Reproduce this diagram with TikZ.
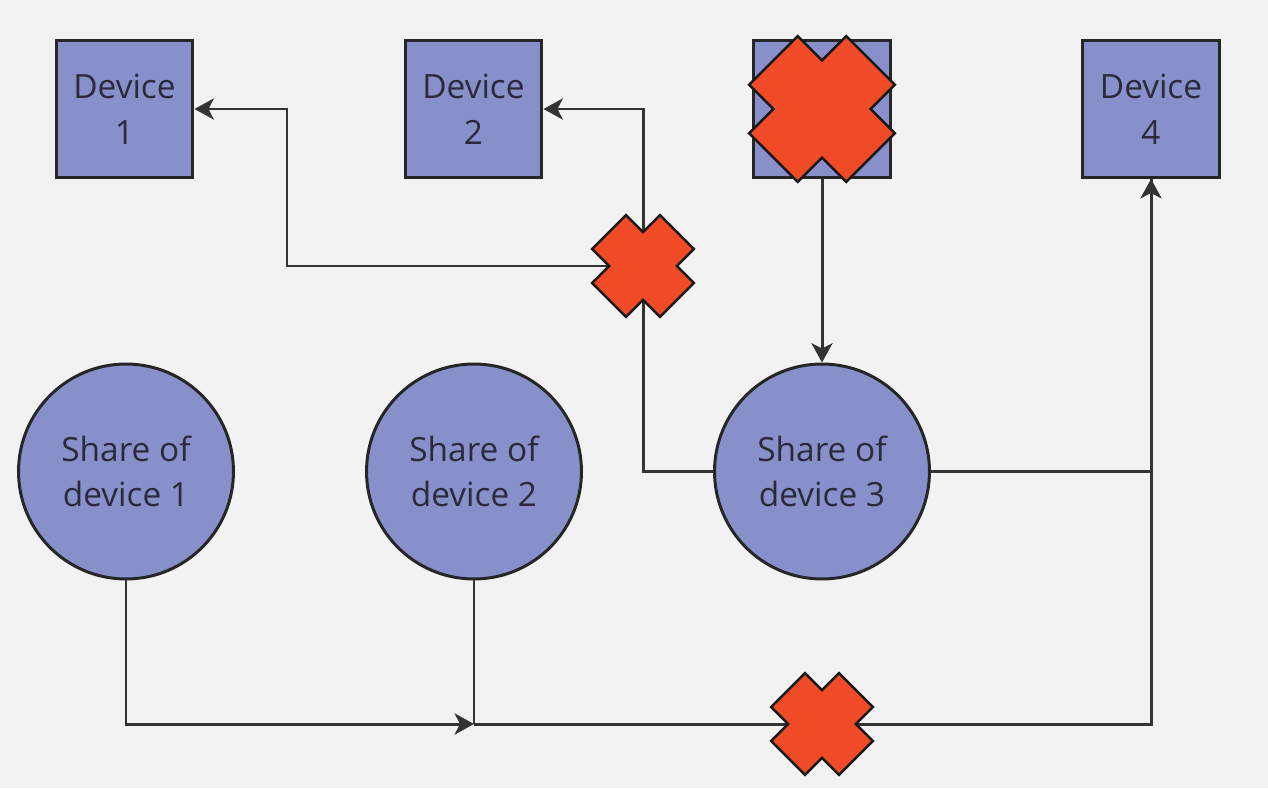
\documentclass[tikz,border=0pt]{standalone}
\usepackage{fontspec}
\setmainfont{Open Sans}
\usetikzlibrary{arrows.meta}
\definecolor{bgcol}{HTML}{F2F2F2}
\definecolor{boxcol}{HTML}{8890CC}
\definecolor{xcol}{HTML}{F04A26}
\definecolor{linecol}{HTML}{333333}
\definecolor{txtcol}{HTML}{2A2A38}
\tikzset{
  devbox/.style={rectangle, draw=black!85, line width=1.7pt, fill=boxcol, minimum size=2.74cm, align=center, text=txtcol, font=\fontsize{19}{26}\selectfont},
  share/.style={circle, draw=black!85, line width=1.7pt, fill=boxcol, minimum size=4.3cm, align=center, text=txtcol, font=\fontsize{19}{26}\selectfont},
  conn/.style={draw=linecol, line width=1.7pt},
  arr/.style={conn, -{Stealth[length=11pt, width=12pt, inset=3pt]}},
  xshape/.style={fill=xcol, draw=black!90, line width=1.4pt, line join=miter}
}
\newcommand{\redcross}[2]{%
  \filldraw[xshape, shift={(#1)}, rotate=45, scale=#2]
    (48,24) -- (24,24) -- (24,48) -- (-24,48) -- (-24,24) -- (-48,24) --
    (-48,-24) -- (-24,-24) -- (-24,-48) -- (24,-48) -- (24,-24) -- (48,-24) -- cycle;}
\begin{document}
\begin{tikzpicture}[x=0.02cm, y=-0.02cm]
  \fill[bgcol] (0,0) rectangle (1268,788);
  \useasboundingbox (0,0) rectangle (1268,788);

  % devices
  \node[devbox] (dev1) at (124.5,109) {Device\\1};
  \node[devbox] (dev2) at (473.5,109) {Device\\2};
  \node[devbox] (dev3) at (822,109) {};
  \node[devbox] (dev4) at (1151,109) {Device\\4};

  % shares
  \node[share] (sh1) at (126,471.5) {Share of\\device 1};
  \node[share] (sh2) at (474,471.5) {Share of\\device 2};
  \node[share] (sh3) at (822,471.5) {Share of\\device 3};

  % crossing points
  \coordinate (c1) at (643,266);
  \coordinate (c3) at (822,724);
  \coordinate (b1) at (287,266);
  \coordinate (j) at (474,724);

  \draw[arr] (c1) -- (b1) |- (dev1.east);
  \draw[arr] (c1) |- (dev2.east);
  \draw[conn] (c1) |- (sh3.west);
  \draw[arr] (dev3.south) -- (sh3.north);
  \draw[conn] (j) -| (dev4.south);
  \draw[arr] (sh3.east) -| (dev4.south);
  \draw[conn] (sh2.south) -- (j);
  \draw[arr] (sh1.south) |- (j);

  \redcross{c1}{1}
  \redcross{c3}{1}
  \redcross{dev3.center}{1.43}
\end{tikzpicture}
\end{document}
